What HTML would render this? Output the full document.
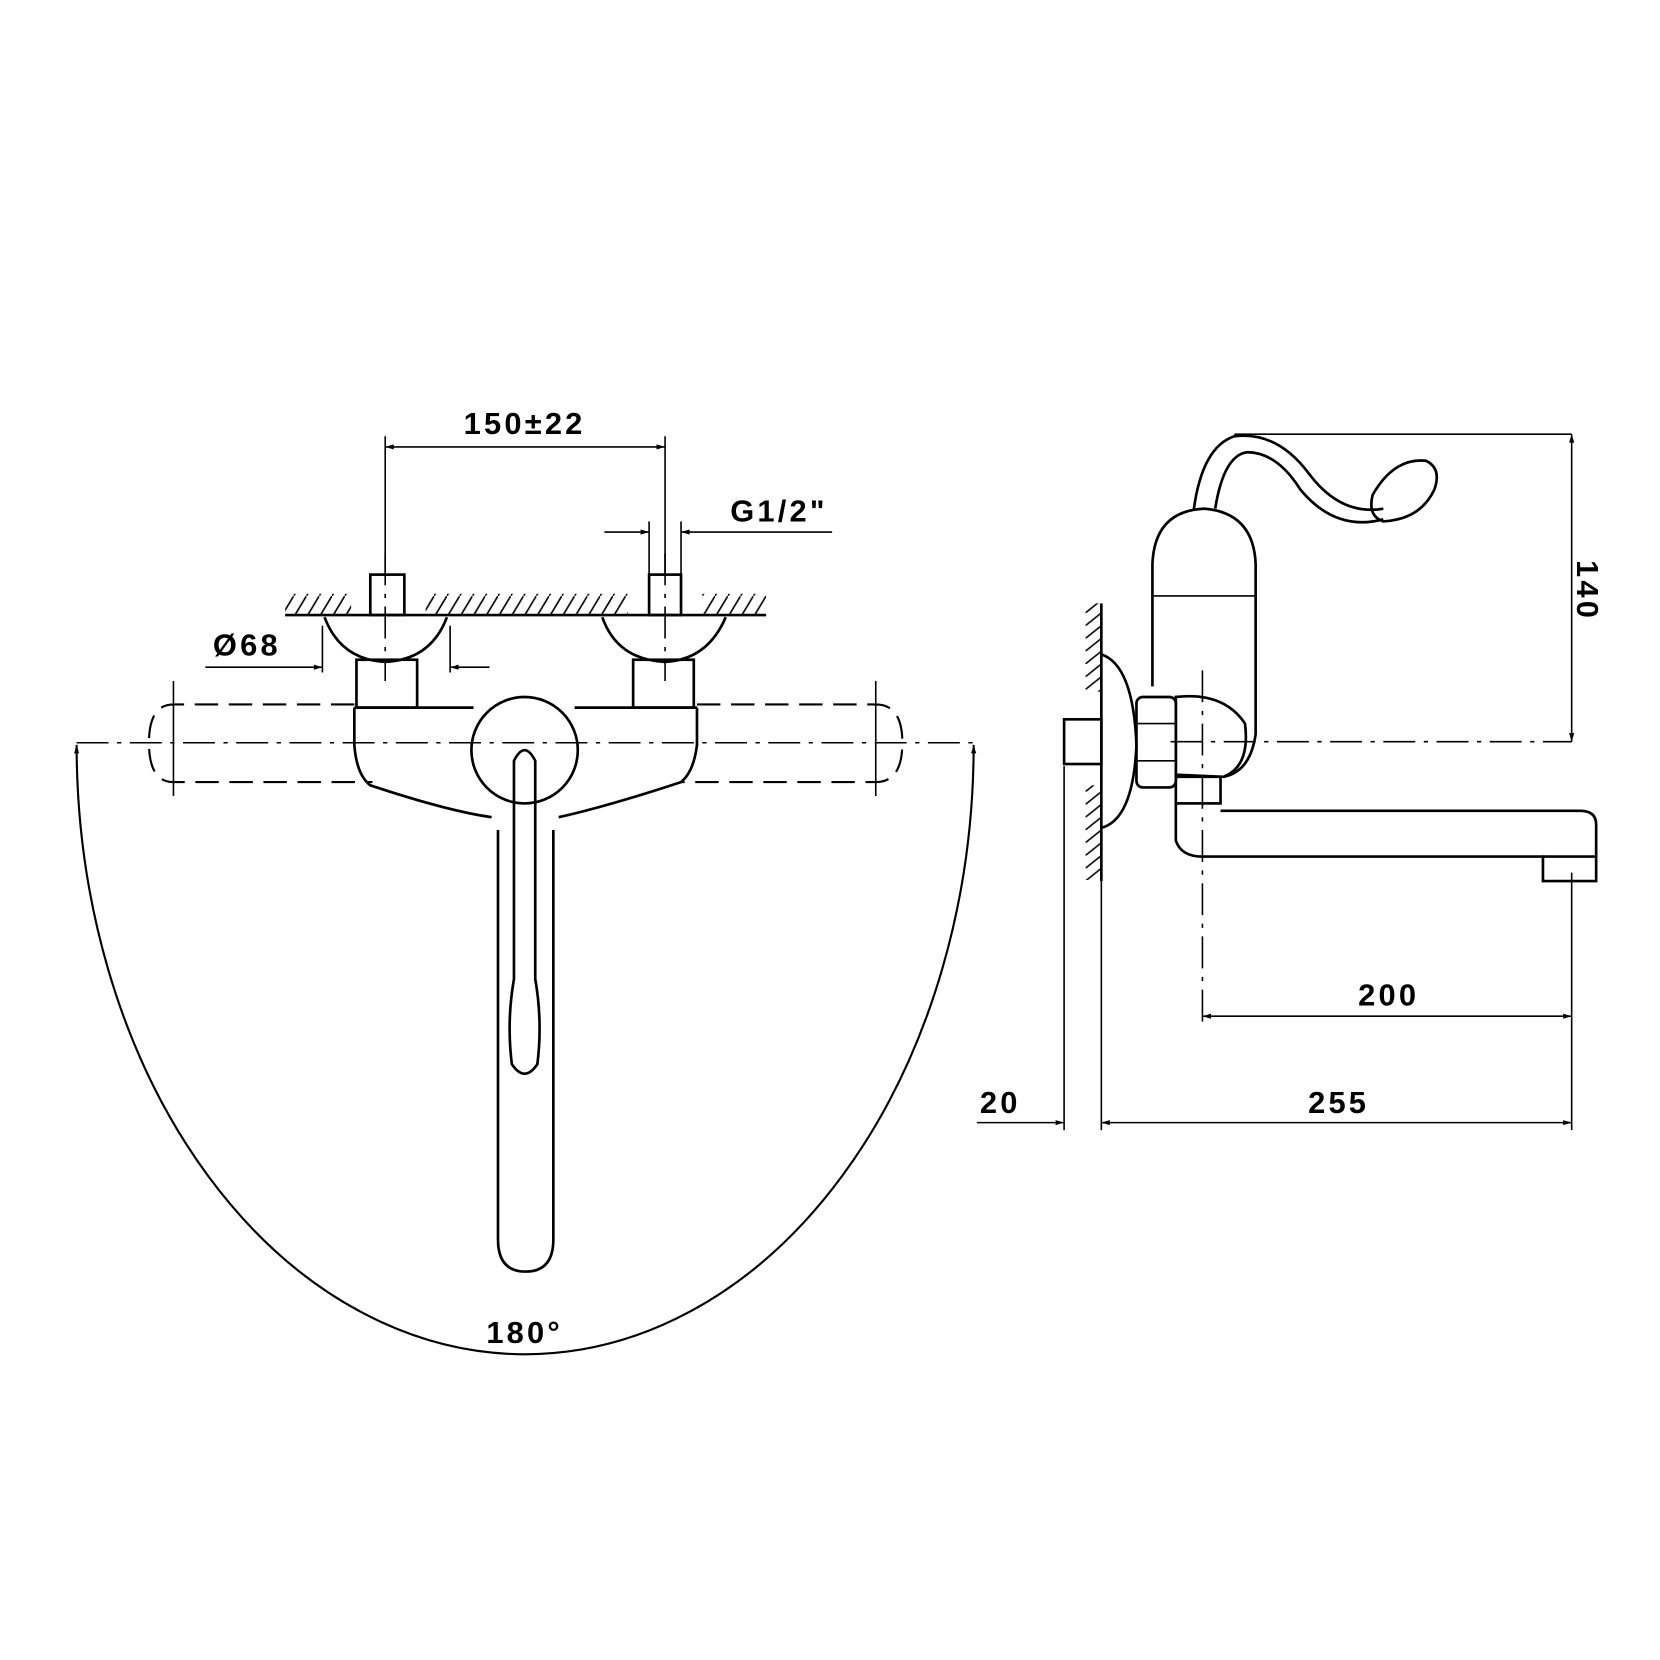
<!DOCTYPE html>
<html><head><meta charset="utf-8"><style>html,body{margin:0;padding:0;background:#fff}svg{display:block}</style></head>
<body>
<svg width="1660" height="1660" viewBox="0 0 1560 1560" xmlns="http://www.w3.org/2000/svg">
<defs>
<pattern id="h" width="12" height="20" patternUnits="userSpaceOnUse"><path d="M0 20 L12 0" stroke="#000" stroke-width="1.5"/></pattern>
<pattern id="hv" width="15" height="12" patternUnits="userSpaceOnUse"><path d="M0 12 L15 0" stroke="#000" stroke-width="1.5"/></pattern>
<marker id="a" viewBox="0 0 10 10" refX="10" refY="5" markerWidth="10" markerHeight="8" orient="auto-start-reverse" markerUnits="userSpaceOnUse"><path d="M0 2 L10 5 L0 8z" fill="#000"/></marker>
</defs>
<g fill="none" stroke="#000" stroke-width="2.5">
<!-- left wall -->
<rect x="268" y="558" width="452" height="20" fill="url(#h)" stroke="none"/>
<rect x="330" y="555" width="70" height="25" fill="#fff" stroke="none"/>
<rect x="590" y="555" width="70" height="25" fill="#fff" stroke="none"/>
<line x1="268" y1="578" x2="720" y2="578"/>
<!-- inlets -->
<rect x="348" y="540" width="32" height="38"/>
<rect x="610" y="540" width="30" height="38"/>
<!-- escutcheons -->
<path d="M305 580 Q320 620 362 622 Q405 620 420 580"/>
<path d="M566 580 Q580 620 625 622 Q665 620 682 580"/>
<!-- nuts -->
<rect x="335" y="620" width="57" height="45"/>
<rect x="595" y="620" width="57" height="45"/>
<!-- body -->
<path d="M333 665 L333 700 Q335 728 348 738 Q420 762 462 768"/>
<path d="M655 665 L655 700 Q652 725 640 735 Q570 758 525 768"/>
<line x1="333" y1="665" x2="445" y2="665"/>
<line x1="540" y1="665" x2="655" y2="665"/>
<circle cx="493" cy="705" r="50"/>
<path d="M468 780 L468 1165 Q468 1195 494 1195 Q520 1195 520 1165 L520 780"/>
<path d="M483 715 Q493 695 503 715 L503 920 Q510 960 505 1000 Q493 1018 481 1000 Q476 960 483 920 Z"/>
<!-- dashed rotation -->
<g stroke-dasharray="22,10" stroke-width="2">
<path d="M333 662 L163 662 Q140 662 140 698 Q140 735 163 735 L350 735"/>
<path d="M655 662 L823 662 Q848 662 848 698 Q848 735 823 735 L640 735"/>
</g>
<g stroke-width="1.5" stroke-dasharray="30,8,4,8">
<line x1="72" y1="698" x2="915" y2="698"/>
<line x1="362" y1="520" x2="362" y2="640"/>
<line x1="625" y1="520" x2="625" y2="640"/>
</g>
<line x1="163" y1="640" x2="163" y2="748" stroke-width="1.5"/>
<line x1="823" y1="640" x2="823" y2="748" stroke-width="1.5"/>
<path d="M72 700 A421 572 0 0 0 915 700" stroke-width="2" marker-start="url(#a)" marker-end="url(#a)"/>
<!-- dims left -->
<g stroke-width="1.5">
<line x1="362" y1="420" x2="625" y2="420" marker-start="url(#a)" marker-end="url(#a)"/>
<line x1="362" y1="410" x2="362" y2="540"/>
<line x1="625" y1="410" x2="625" y2="540"/>
<line x1="568" y1="500" x2="610" y2="500" marker-end="url(#a)"/>
<line x1="782" y1="500" x2="640" y2="500" marker-end="url(#a)"/>
<line x1="610" y1="490" x2="610" y2="540"/>
<line x1="640" y1="490" x2="640" y2="540"/>
<line x1="193" y1="627" x2="303" y2="627" marker-end="url(#a)"/>
<line x1="460" y1="627" x2="423" y2="627" marker-end="url(#a)"/>
<line x1="303" y1="588" x2="303" y2="632"/>
<line x1="423" y1="588" x2="423" y2="632"/>
</g>
<!-- right wall -->
<rect x="1020" y="567" width="15" height="260" fill="url(#hv)" stroke="none"/>
<rect x="1015" y="650" width="22" height="88" fill="#fff" stroke="none"/>
<line x1="1035" y1="567" x2="1035" y2="828"/>
<path d="M1035 615 Q1065 625 1068 700 Q1065 770 1035 778"/>
<rect x="1000" y="676" width="35" height="42"/>
<rect x="1068" y="655" width="37" height="85" rx="6"/>
<line x1="1068" y1="680" x2="1105" y2="680" stroke-width="1.5"/>
<line x1="1068" y1="715" x2="1105" y2="715" stroke-width="1.5"/>
<!-- body column -->
<path d="M1083 645 L1083 530 Q1085 480 1132 478 Q1178 482 1180 530 L1180 690 Q1175 725 1150 730"/>
<line x1="1083" y1="560" x2="1180" y2="560" stroke-width="1.5"/>
<path d="M1105 655 Q1150 650 1170 680 Q1175 720 1150 730 L1105 728 Z"/>
<rect x="1105" y="730" width="42" height="25"/>
<!-- spout -->
<path d="M1105 755 L1105 790 Q1110 805 1130 805 L1450 805 L1450 828 L1500 828 L1500 775 Q1500 762 1485 762 L1147 762"/>
<line x1="1450" y1="805" x2="1500" y2="805"/>
<!-- hose and handle -->
<path d="M1122 478 Q1130 420 1160 410 Q1200 405 1230 445 Q1260 485 1300 478"/>
<path d="M1142 478 Q1150 428 1172 425 Q1200 425 1222 460 Q1255 500 1300 488"/>
<path d="M1290 465 Q1310 430 1340 433 Q1355 440 1348 460 Q1335 488 1300 490 Q1285 485 1290 465 Z"/>
<!-- dims right -->
<g stroke-width="1.5">
<line x1="1160" y1="408" x2="1477" y2="408"/>
<line x1="1477" y1="408" x2="1477" y2="697" marker-start="url(#a)" marker-end="url(#a)"/>
<line x1="1100" y1="697" x2="1477" y2="697" stroke-dasharray="30,8,4,8"/>
<line x1="1130" y1="630" x2="1130" y2="960" stroke-dasharray="30,8,4,8"/>
<line x1="1477" y1="820" x2="1477" y2="1062"/>
<line x1="1130" y1="955" x2="1477" y2="955" marker-start="url(#a)" marker-end="url(#a)"/>
<line x1="1000" y1="720" x2="1000" y2="1062"/>
<line x1="1035" y1="828" x2="1035" y2="1062"/>
<line x1="1035" y1="1055" x2="1477" y2="1055" marker-start="url(#a)" marker-end="url(#a)"/>
<line x1="918" y1="1055" x2="1000" y2="1055" marker-end="url(#a)"/>
</g>
</g>
<g font-family="Liberation Sans, sans-serif" font-weight="bold" font-size="29" letter-spacing="3" fill="#000">
<text x="493" y="408" text-anchor="middle">150±22</text>
<text x="732" y="490" text-anchor="middle">G1/2"</text>
<text x="232" y="616" text-anchor="middle">Ø68</text>
<text x="493" y="1262" text-anchor="middle">180°</text>
<text x="1305" y="945" text-anchor="middle">200</text>
<text x="1258" y="1046" text-anchor="middle">255</text>
<text x="940" y="1046" text-anchor="middle">20</text>
<text transform="translate(1482 555) rotate(90)" text-anchor="middle">140</text>
</g>
</svg>
</body></html>
